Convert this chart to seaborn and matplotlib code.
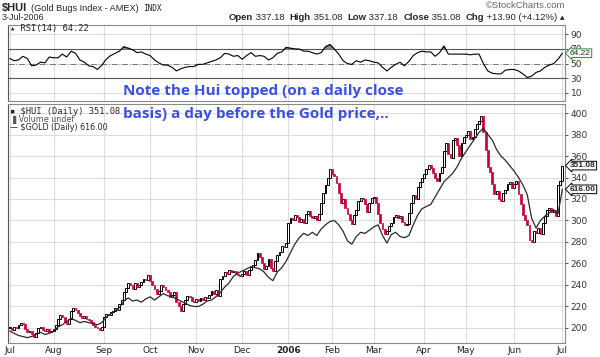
import numpy as np
import pandas as pd
import matplotlib
matplotlib.use("Agg")
import matplotlib.pyplot as plt
import matplotlib.transforms as mtransforms
import seaborn as sns

# NYSE trading days, 1-Jul-2005 .. 3-Jul-2006
holidays = ["2005-07-04", "2005-09-05", "2005-11-24", "2005-12-26", "2006-01-02",
            "2006-01-16", "2006-02-20", "2006-04-14", "2006-05-29"]
days = pd.bdate_range("2005-07-01", "2006-07-03")
days = days[~days.isin(pd.to_datetime(holidays))]

# $HUI daily closes
hui_jul05 = [200, 198, 201, 200, 203, 205, 204, 199, 196, 197, 194, 192, 195, 200, 201, 198, 197, 199, 196, 197]
hui_aug05 = [199, 203, 208, 212, 210, 206, 204, 208, 216, 219, 217, 214, 211, 209, 211, 208, 207, 206, 203, 201, 200, 198, 201]
hui_sep05 = [210, 213, 212, 215, 216, 219, 217, 222, 226, 233, 237, 242, 240, 236, 242, 238, 240, 243, 246, 245, 249]
hui_oct05 = [244, 240, 236, 232, 234, 240, 238, 235, 233, 229, 231, 233, 224, 220, 216, 222, 226, 230, 229, 225, 224]
hui_nov05 = [227, 225, 228, 226, 229, 228, 231, 234, 232, 235, 230, 246, 248, 252, 250, 254, 252, 253, 250, 249, 248]
hui_dec05 = [250, 253, 249, 254, 257, 259, 263, 270, 266, 260, 255, 258, 264, 256, 253, 262, 268, 271, 276, 275, 279]
hui_jan06 = [298, 302, 300, 305, 303, 299, 301, 298, 306, 309, 304, 302, 304, 300, 306, 316, 326, 333, 340, 348]
hui_feb06 = [343, 341, 335, 326, 316, 320, 312, 306, 300, 297, 305, 310, 318, 321, 320, 315, 308, 316, 321]
hui_mar06 = [322, 316, 306, 298, 292, 287, 290, 295, 298, 303, 305, 302, 304, 299, 296, 297, 307, 316, 324, 320, 331, 336, 340]
hui_apr06 = [343, 348, 352, 349, 344, 340, 337, 344, 350, 365, 372, 362, 358, 375, 377, 370, 360, 372, 378]
hui_may06 = [380, 383, 376, 378, 385, 390, 393, 397, 382, 366, 350, 345, 334, 325, 327, 320, 318, 326, 328, 334, 336, 330]
hui_jun06 = [334, 337, 325, 315, 305, 300, 296, 282, 280, 290, 288, 293, 287, 298, 304, 310, 312, 308, 310, 304, 333, 337.18]
hui_jul06 = [351.08]
hui_close = (hui_jul05 + hui_aug05 + hui_sep05 + hui_oct05 + hui_nov05 + hui_dec05 + hui_jan06
             + hui_feb06 + hui_mar06 + hui_apr06 + hui_may06 + hui_jun06 + hui_jul06)

# $GOLD closes, every second trading day
gold_close = [431.2, 428.4, 425.6, 424.2, 422.8, 424.2, 427.0, 429.8, 427.0, 428.4,
              431.2, 436.8, 439.6, 443.8, 448.0, 445.2, 442.4, 443.8, 442.4, 441.0,
              439.6, 442.4, 449.4, 453.6, 457.8, 462.0, 470.4, 474.6, 470.4, 471.8,
              469.0, 473.2, 476.0, 471.8, 476.0, 480.2, 477.4, 476.0, 473.2, 470.4,
              467.6, 464.8, 463.4, 463.4, 466.2, 470.4, 471.8, 476.0, 481.6, 488.6,
              494.2, 502.6, 506.8, 509.6, 512.4, 515.2, 513.8, 512.4, 508.2, 501.2,
              497.0, 508.2, 513.8, 522.2, 533.4, 544.6, 553.0, 558.6, 555.8, 560.0,
              555.8, 564.2, 569.8, 574.0, 575.4, 569.8, 561.4, 548.8, 544.6, 554.4,
              560.0, 558.6, 562.8, 567.0, 569.8, 555.8, 546.0, 557.2, 560.0, 554.4,
              553.0, 555.8, 569.8, 582.4, 590.8, 593.6, 596.4, 606.2, 616.0, 625.8,
              631.4, 637.0, 645.4, 656.6, 665.0, 673.4, 681.8, 690.2, 695.8, 687.4,
              680.4, 667.8, 659.4, 653.8, 646.8, 639.8, 631.4, 621.6, 609.0, 578.2,
              565.6, 575.4, 581.0, 585.2, 589.4, 583.8, 616.0]

# RSI(14), every second trading day
rsi_values = [57, 54, 55, 60, 57, 47, 48, 52, 51, 59, 58, 58, 63, 59, 67, 64, 55, 52, 47, 46,
              42, 48, 56, 61, 64, 67, 73, 71, 69, 65, 66, 63, 61, 55, 51, 48, 48, 45, 40, 43,
              45, 46, 46, 49, 49, 51, 53, 55, 58, 64, 63, 60, 61, 56, 61, 65, 60, 61, 60, 55,
              58, 64, 66, 72, 71, 70, 70, 67, 67, 65, 63, 65, 73, 76, 70, 63, 54, 50, 49, 54,
              52, 55, 54, 52, 51, 45, 40, 45, 49, 52, 47, 53, 61, 65, 67, 66, 66, 60, 65, 74,
              63, 63, 63, 63, 63, 62, 63, 63, 50, 40, 37, 36, 36, 41, 42, 42, 40, 36, 31, 33,
              38, 40, 45, 48, 50, 56, 64.22]

month_labels = ["Jul", "Aug", "Sep", "Oct", "Nov", "Dec", "2006", "Feb", "Mar", "Apr", "May", "Jun", "Jul"]
price_ticks = list(range(200, 401, 20))
rsi_ticks = [10, 30, 50, 70, 90]

assert len(hui_close) == len(days)

sns.set_style("white")
plt.rcParams['font.family'] = ['DejaVu Sans']
SANS = ["Liberation Sans", "DejaVu Sans"]

W, H = 600, 357
fig = plt.figure(figsize=(W / 100, H / 100), dpi=100)


def fx(px):
    return px / W


def fy(py):
    return 1 - py / H


L, R = 8, 565
ax_rsi = fig.add_axes([fx(L), fy(101), (R - L) / W, (101 - 24.5) / H])
ax = fig.add_axes([fx(L), fy(343), (R - L) / W, (343 - 104) / H])

x = np.arange(len(hui_close))
x2 = x[::2]
month_pos = np.searchsorted(days, pd.date_range("2005-07-01", "2006-07-01", freq="MS"))

grid_c = "#dddddd"
spine_c = "#8a8a8a"

# ---- price panel
ax.set_xlim(-0.8, 253.2)
ax.set_ylim(186, 408.4)
for t in price_ticks:
    ax.axhline(t, color=grid_c, lw=0.8, zorder=0)

close = np.array(hui_close, dtype=float)
open_ = np.r_[close[0], close[:-1]]
up = close >= open_
low = np.minimum(close, open_)
body = np.maximum(np.abs(close - open_), 0.6)
ax.bar(x[up], body[up], bottom=low[up], width=0.85, color="white", edgecolor="black", linewidth=0.7, zorder=3)
ax.bar(x[~up], body[~up], bottom=low[~up], width=0.85, color="#c8003c", edgecolor="#c8003c", linewidth=0.5, zorder=3)

ax_g = ax.twinx()
sns.lineplot(x=x2, y=gold_close, ax=ax_g, color="#2a2a2a", lw=0.9, zorder=4)
ax_g.set_ylim(1.4 * 186 + 155.4, 1.4 * 408.4 + 155.4)
ax_g.set_xlim(ax.get_xlim())
ax_g.axis("off")

for a in (ax, ax_rsi):
    a.set_xlim(-0.8, 253.2)
    for m in month_pos:
        a.axvline(m, color=grid_c, lw=0.8, zorder=0)
    for s in a.spines.values():
        s.set_color(spine_c)
        s.set_linewidth(0.8)
    a.yaxis.tick_right()
    a.yaxis.set_label_position("right")
    a.tick_params(axis="y", labelsize=6.5, length=2, pad=2, colors="#333333", width=0.6,
                  left=False, labelleft=False, right=True, labelright=True)
ax.spines["left"].set_color("#555555")
ax_rsi.spines["left"].set_color("#555555")

ax.set_yticks(price_ticks)
ax.set_xticks(month_pos)
ax.set_xticklabels(month_labels)
ax.tick_params(axis="x", labelsize=6.5, length=0, pad=2, colors="#222222")
for lab in ax.get_xticklabels():
    if lab.get_text() == "2006":
        lab.set_fontweight("bold")

tag_x = 1.009
blend = mtransforms.blended_transform_factory(ax.transAxes, ax.transData)
ax.text(tag_x, hui_close[-1], f"{hui_close[-1]:.2f}", fontsize=6.0, fontweight="bold", va="center", ha="left",
        family=SANS, transform=blend, zorder=6,
        bbox=dict(boxstyle="larrow,pad=0.1", fc="white", ec="black", lw=0.7), clip_on=False)
blend_g = mtransforms.blended_transform_factory(ax.transAxes, ax_g.transData)
ax.text(tag_x, gold_close[-1], f"{gold_close[-1]:.2f}", fontsize=6.0, fontweight="bold", va="center", ha="left",
        family=SANS, transform=blend_g, zorder=6,
        bbox=dict(boxstyle="larrow,pad=0.1", fc="white", ec="black", lw=0.7), clip_on=False)

# ---- RSI panel
ax_rsi.set_ylim(-1, 103.4)
ax_rsi.set_yticks(rsi_ticks)
ax_rsi.set_xticks([])
for lvl in (10, 90):
    ax_rsi.axhline(lvl, color=grid_c, lw=0.8, zorder=0)
ax_rsi.axhline(70, color="#555555", lw=0.8, zorder=1)
ax_rsi.axhline(30, color="#555555", lw=0.8, zorder=1)
ax_rsi.axhline(50, color="#777777", lw=0.7, ls="-.", zorder=1)
rsi_arr = np.array(rsi_values, dtype=float)
ax_rsi.fill_between(x2, rsi_arr, 70, where=rsi_arr > 70, interpolate=True, color="#888888", zorder=1)
ax_rsi.fill_between(x2, rsi_arr, 30, where=rsi_arr < 30, interpolate=True, color="#888888", zorder=1)
sns.lineplot(x=x2, y=rsi_arr, ax=ax_rsi, color="black", lw=0.8, zorder=2)
ax_rsi.set_xlabel("")
ax_rsi.set_ylabel("")
ax_rsi.text(tag_x, rsi_values[-1], f"{rsi_values[-1]:.2f}", fontsize=6.0, va="center", ha="left",
            family=SANS, zorder=6,
            transform=mtransforms.blended_transform_factory(ax_rsi.transAxes, ax_rsi.transData),
            bbox=dict(boxstyle="larrow,pad=0.1", fc="white", ec="#2e8b3a", lw=0.7), clip_on=False)

# ---- header
renderer = fig.canvas.get_renderer()
t_hui = fig.text(fx(2), fy(11), "$HUI", fontsize=8, fontweight="bold", family=SANS)
xh = fx(2) + t_hui.get_window_extent(renderer).width / W + fx(4)
t_name = fig.text(xh, fy(11), "(Gold Bugs Index - AMEX)", fontsize=6.6, family=SANS)
xh += t_name.get_window_extent(renderer).width / W + fx(4)
fig.text(xh, fy(11), "INDX", fontsize=5.6, family="DejaVu Sans Mono")
fig.text(fx(2), fy(20.5), "3-Jul-2006", fontsize=6.4, family=SANS)
fig.text(fx(565), fy(7.5), "\u00a9StockCharts.com", fontsize=6.8, ha="right", color="#666666", family=SANS)

parts = [("Open", "bold"), (" 337.18  ", "normal"), ("High", "bold"), (" 351.08  ", "normal"),
         ("Low", "bold"), (" 337.18  ", "normal"), ("Close", "bold"), (" 351.08  ", "normal"),
         ("Chg", "bold"), (" +13.90 (+4.12%) \u25b4", "normal")]
xr = fx(565)
for s, w in reversed(parts):
    t = fig.text(xr, fy(20), s, fontsize=6.8, fontweight=w, ha="right", family=SANS)
    xr -= t.get_window_extent(renderer).width / W

# ---- panel legends
fig.text(fx(10), fy(31.5), "\u25b4 RSI(14) 64.22", fontsize=6.3, family="DejaVu Sans Mono")
fig.text(fx(10), fy(114.5), "\u25aa $HUI (Daily) 351.08", fontsize=6.3, family="DejaVu Sans Mono")
fig.text(fx(10), fy(122), "\u2590 Volume undef", fontsize=5.8, color="#555555")
fig.text(fx(10), fy(129.5), "\u2014 $GOLD (Daily) 616.00", fontsize=5.8)

# ---- annotation
note_c = "#3b4fe0"
fig.text(fx(123), fy(95), "Note the Hui topped (on a daily close", fontsize=11, fontweight="bold",
         color=note_c, family="Open Sans")
fig.text(fx(123), fy(118), "basis) a day before the Gold price,..", fontsize=11, fontweight="bold",
         color=note_c, family="Open Sans")

fig.savefig("out.png", dpi=100)
